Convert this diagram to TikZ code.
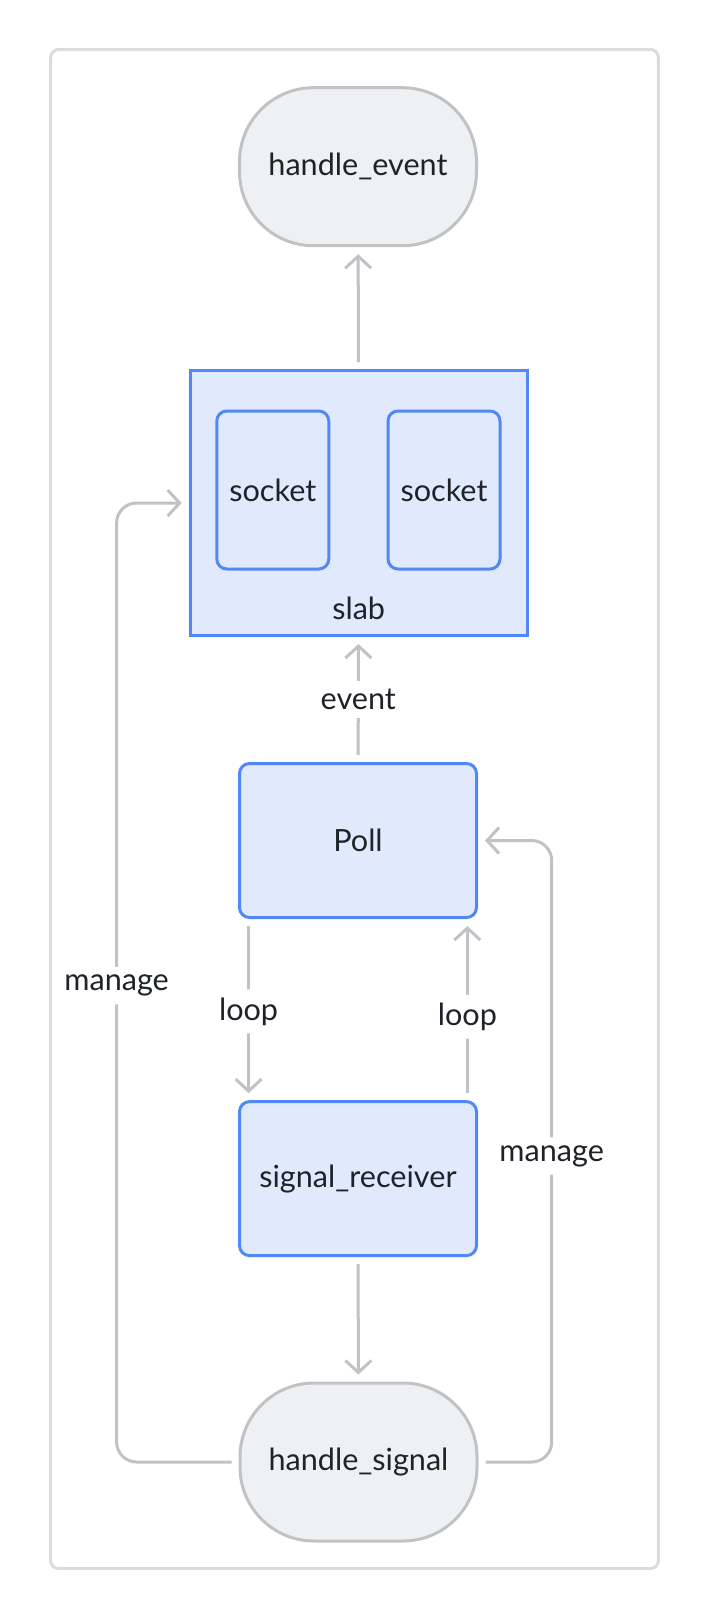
\documentclass[tikz,border=0pt]{standalone}
\usepackage{fontspec}
\setmainfont{Lato}
\usetikzlibrary{arrows.meta}

\definecolor{edgegray}{HTML}{C0C2C6}
\definecolor{framegray}{HTML}{DCDCDE}
\definecolor{termfill}{HTML}{EFF0F2}
\definecolor{procblue}{HTML}{5288F5}
\definecolor{procfill}{HTML}{E1E9FD}
\definecolor{textdark}{HTML}{1F2329}

\tikzset{
  txt/.style={text=textdark, font=\fontsize{15.3}{18}\selectfont},
  terminal/.style={txt, draw=edgegray, fill=termfill, line width=1.5pt, rounded corners=37pt, minimum width=118.5pt, minimum height=79pt},
  process/.style={txt, draw=procblue, fill=procfill, line width=1.5pt, rounded corners=5pt, minimum width=118.5pt, minimum height=77pt},
  socketbox/.style={process, minimum width=56pt, minimum height=79pt},
  link/.style={draw=edgegray, line width=1.5pt, rounded corners=10pt, -{Straight Barb[length=6pt,width=13pt]}, shorten >=3.5pt, shorten <=3.5pt},
  tag/.style={txt, fill=white, inner sep=4pt}
}

\begin{document}
\begin{tikzpicture}[x=0.5pt,y=-0.5pt]
  \useasboundingbox (0,0) rectangle (710,1618);
  % outer frame
  \draw[framegray, line width=1.5pt, rounded corners=4pt] (50.6,49.5) rectangle (658.4,1568.6);

  \node[terminal] (he) at (358,166.7) {handle\_event};
  \node[process, rounded corners=0pt, minimum width=168.5pt, minimum height=132.5pt] (slab) at (358.7,503) {};
  \node[socketbox] (s1) at (272.8,490) {socket};
  \node[socketbox] (s2) at (444,490) {socket};
  \node[txt] (slabl) at (358.7,608) {slab};
  \node[process] (poll) at (358,840.5) {Poll};
  \node[process] (sr) at (358,1178.6) {signal\_receiver};
  \node[terminal] (hs) at (358.5,1462) {handle\_signal};
  \coordinate (ml) at (116.6,985.6);
  \coordinate (mr) at (551.7,1156);

  % connectors
  \draw[link] (slab) -- (he);
  \draw[link] (poll) -- node[tag] {event} (slab);
  \draw[link] ([xshift=5.3pt]poll.south west) -- node[tag, pos=0.51] {loop} ([xshift=5.3pt]sr.north west);
  \draw[link] ([xshift=-5.3pt]sr.north east) -- node[tag, pos=0.46] {loop} ([xshift=-5.3pt]poll.south east);
  \draw[link] (sr) -- (hs);
  \draw[link] (hs.west) -| (ml) node[tag] {manage} |- (slab.west);
  \draw[link] (hs.east) -| (mr) node[tag] {manage} |- (poll.east);
\end{tikzpicture}
\end{document}
